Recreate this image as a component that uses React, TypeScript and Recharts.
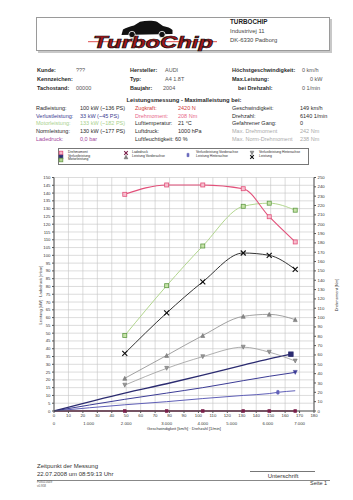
import React from "react";
import { LineChart, Line, XAxis, YAxis, CartesianGrid } from "recharts";

// Messpunkte (km/h) der Hauptkurven
const speeds = [49, 78, 103, 131, 149, 167];
const drehmoment = [232, 242, 242, 238, 208, 181];
const motorleistung = [48.5, 80.5, 106, 131.5, 133.5, 129];
const leistung = [37, 63, 83, 101.5, 100, 91];
const leistungVA = [21, 35.7, 48.5, 60.8, 62.1, 58.7];
const leistungHA = [16.6, 27.4, 34.9, 41, 37.8, 32.1];

// Verlustkurven ab Nullpunkt
const verlustSpeeds = [0, 49, 78, 103, 131, 149, 164];
const verlust = [0, 11.5, 17.5, 23, 29.5, 33.5, 36.5];
const verlustHASpeeds = [0, 49, 78, 103, 131, 149, 167];
const verlustHA = [0, 7.5, 11.5, 15, 19.5, 22.3, 24.8];
const verlustVASpeeds = [0, 49, 78, 103, 131, 149, 155, 167];
const verlustVA = [0, 4, 6, 8, 10, 11.2, 12, 13];
const ladeSpeeds = [0, 49, 78, 103, 131, 149, 167];
const ladedruck = [0, 0, 0, 0, 0, 0, 0];

const kmhTicks = [0, 10, 20, 30, 40, 50, 60, 70, 80, 90, 100, 110, 120, 130, 140, 150, 160, 170, 180];
const kwTicks = [0, 5, 10, 15, 20, 25, 30, 35, 40, 45, 50, 55, 60, 65, 70, 75, 80, 85, 90, 95, 100, 105, 110, 115, 120, 125, 130, 135, 140, 145, 150];
const nmTicks = [0, 10, 20, 30, 40, 50, 60, 70, 80, 90, 100, 110, 120, 130, 140, 150, 160, 170, 180, 190, 200, 210, 220, 230, 240, 250];
// Drehzahl-Beschriftung: Lage (km/h) und Text
const rpmAt = [0, 24, 50, 78, 103, 123, 148, 170];
const rpmLabels = ["0", "1.000", "2.000", "3.000", "4.000", "5.000", "6.000", "7.000"];

const C_NM = "#e2507a";
const C_MOTOR = "#b2d68e";
const C_LEIST = "#333333";
const C_VA = "#8a8a8a";
const C_HA = "#9a9a9a";
const C_VERL = "#2b2b70";
const C_VERL_HA = "#3c3c96";
const C_VERL_VA = "#6060b8";
const C_LADE = "#7a1f4a";

const FONT = "'Liberation Sans', Arial, sans-serif";

function rows(xs: number[], ys: number[]) {
  return xs.map((x, i) => ({ x, y: ys[i] }));
}

function Marker({ kind, cx, cy, color, fill, s }: any) {
  const h = s / 2;
  if (kind === "square")
    return <rect x={cx - h} y={cy - h} width={s} height={s} stroke={color} fill={fill} strokeWidth={0.8} />;
  if (kind === "x")
    return (
      <g stroke={color} strokeWidth={1.1}>
        <line x1={cx - h} y1={cy - h} x2={cx + h} y2={cy + h} />
        <line x1={cx - h} y1={cy + h} x2={cx + h} y2={cy - h} />
      </g>
    );
  if (kind === "up")
    return <polygon points={`${cx},${cy - h} ${cx + h},${cy + h} ${cx - h},${cy + h}`} fill={fill} stroke={color} strokeWidth={0.5} />;
  if (kind === "down")
    return <polygon points={`${cx - h},${cy - h} ${cx + h},${cy - h} ${cx},${cy + h}`} fill={fill} stroke={color} strokeWidth={0.5} />;
  // stern / vase
  return (
    <g fill={fill} stroke={color} strokeWidth={0.5}>
      <ellipse cx={cx} cy={cy - h / 2} rx={h * 0.7} ry={h / 2} />
      <ellipse cx={cx} cy={cy + h / 2} rx={h * 0.7} ry={h / 2} />
    </g>
  );
}

function dotFn(kind: string, color: string, fill: string, s: number, only?: number[]) {
  return (p: any) => {
    if (p.cx == null || (only && !only.includes(p.index))) return <g key={`d${p.index}`} />;
    return (
      <g key={`d${p.index}`}>
        <Marker kind={kind} cx={p.cx} cy={p.cy} color={color} fill={fill} s={s} />
      </g>
    );
  };
}

function Txt({ x, y, s = 5.5, c = "#2a2a2a", b = false, children, center = false }: any) {
  return (
    <div
      style={{
        position: "absolute",
        left: x,
        top: y - s * 0.58,
        fontSize: s,
        lineHeight: 1,
        color: c,
        fontWeight: b ? 700 : 400,
        whiteSpace: "nowrap",
        transform: center ? "translateX(-50%)" : undefined,
      }}
    >
      {children}
    </div>
  );
}

function LegendGlyph({ x, y, kind, color, fill }: any) {
  return (
    <svg style={{ position: "absolute", left: x - 3, top: y - 3 }} width={6} height={6}>
      <Marker kind={kind} cx={3} cy={3} color={color} fill={fill} s={3.6} />
    </svg>
  );
}

const tickStyle = { fontSize: 4.3, fill: "#333", fontFamily: FONT };

export default function App() {
  const infoRows = [109, 116.7, 124.3, 132, 139.7];
  return (
    <div
      style={{
        position: "absolute",
        left: 0,
        top: 0,
        width: 353,
        height: 500,
        background: "#fff",
        fontFamily: FONT,
        overflow: "hidden",
      }}
    >
      {/* Kopfbox mit Logo */}
      <div style={{ position: "absolute", left: 38, top: 19, width: 294, height: 34, background: "#c8c8c8" }} />
      <div style={{ position: "absolute", left: 36, top: 17, width: 292, height: 32, border: "1px solid #9a9a9a", background: "#fff" }} />
      <svg style={{ position: "absolute", left: 0, top: 0 }} width={353} height={60}>
        <path
          d="M122,33 L123,29.5 C126,27.5 130,26.5 134,25.5 L140,21.8 C146,20.4 153,20.4 157,21.8 L163,26 C167,26.8 171,28 172.5,30 L172.5,34 L121.5,35 Z"
          fill="#111"
        />
        <circle cx={132} cy={34.5} r={3.2} fill="#111" stroke="#fff" strokeWidth={0.8} />
        <circle cx={162} cy={34.5} r={3.2} fill="#111" stroke="#fff" strokeWidth={0.8} />
        <line x1={88} y1={41.7} x2={217} y2={41.7} stroke="#d42020" strokeWidth={0.8} />
        <text
          x={93}
          y={47.5}
          fontSize={16}
          fontWeight={900}
          fontStyle="italic"
          fill="#a3161a"
          stroke="#111"
          strokeWidth={0.7}
          textLength={120}
          lengthAdjust="spacingAndGlyphs"
          fontFamily={FONT}
        >
          TurboChip
        </text>
      </svg>
      <Txt x={230} y={23} s={6.3} b c="#222">TURBOCHIP</Txt>
      <Txt x={230} y={32} s={5.9} c="#444">Industrivej 11</Txt>
      <Txt x={230} y={41} s={5.9} c="#444">DK-6330 Padborg</Txt>

      {/* Fahrzeugdaten */}
      <Txt x={37} y={71} b>Kunde:</Txt>
      <Txt x={76} y={71} c="#555">???</Txt>
      <Txt x={37} y={80} b>Kennzeichen:</Txt>
      <Txt x={37} y={89} b>Tachostand:</Txt>
      <Txt x={76} y={89} c="#555">00000</Txt>
      <Txt x={130} y={71} b>Hersteller:</Txt>
      <Txt x={165} y={71} c="#555">AUDI</Txt>
      <Txt x={130} y={80} b>Typ:</Txt>
      <Txt x={165} y={80} c="#555">A4 1.8T</Txt>
      <Txt x={130} y={89} b>Baujahr:</Txt>
      <Txt x={163} y={89} c="#555">2004</Txt>
      <Txt x={232} y={71} b>Höchstgeschwindigkeit:</Txt>
      <Txt x={302} y={71} c="#555">0 km/h</Txt>
      <Txt x={232} y={80} b>Max.Leistung:</Txt>
      <Txt x={310} y={80} c="#555">0 kW</Txt>
      <Txt x={238} y={89} b>bei Drehzahl:</Txt>
      <Txt x={302} y={89} c="#555">0 1/min</Txt>

      <Txt x={184} y={101} s={5.8} b center>Leistungsmessung - Maximalleistung bei:</Txt>

      <Txt x={36} y={infoRows[0]}>Radleistung:</Txt>
      <Txt x={80} y={infoRows[0]}>100 kW (~136 PS)</Txt>
      <Txt x={36} y={infoRows[1]} c="#3b3b8f">Verlustleistung:</Txt>
      <Txt x={80} y={infoRows[1]} c="#3b3b8f">33 kW (~45 PS)</Txt>
      <Txt x={36} y={infoRows[2]} c="#a9d18e">Motorleistung:</Txt>
      <Txt x={80} y={infoRows[2]} c="#a9d18e">133 kW (~182 PS)</Txt>
      <Txt x={36} y={infoRows[3]}>Normleistung:</Txt>
      <Txt x={80} y={infoRows[3]}>130 kW (~177 PS)</Txt>
      <Txt x={36} y={infoRows[4]} c="#a0459b">Ladedruck:</Txt>
      <Txt x={80} y={infoRows[4]} c="#a0459b">0,0 bar</Txt>

      <Txt x={135} y={infoRows[0]} c="#d23a3a">Zugkraft:</Txt>
      <Txt x={178} y={infoRows[0]} c="#d23a3a">2420 N</Txt>
      <Txt x={135} y={infoRows[1]} c="#e8688a">Drehmoment:</Txt>
      <Txt x={178} y={infoRows[1]} c="#e8688a">208 Nm</Txt>
      <Txt x={135} y={infoRows[2]}>Lufttemperatur:</Txt>
      <Txt x={178} y={infoRows[2]}>21 °C</Txt>
      <Txt x={135} y={infoRows[3]}>Luftdruck:</Txt>
      <Txt x={178} y={infoRows[3]}>1000 hPa</Txt>
      <Txt x={135} y={infoRows[4]}>Luftfeuchtigkeit: 60 %</Txt>

      <Txt x={232} y={infoRows[0]}>Geschwindigkeit:</Txt>
      <Txt x={300} y={infoRows[0]}>149 km/h</Txt>
      <Txt x={232} y={infoRows[1]}>Drehzahl:</Txt>
      <Txt x={300} y={infoRows[1]}>6140 1/min</Txt>
      <Txt x={232} y={infoRows[2]}>Gefahrener Gang:</Txt>
      <Txt x={300} y={infoRows[2]}>0</Txt>
      <Txt x={232} y={infoRows[3]} c="#aaa">Max. Drehmoment</Txt>
      <Txt x={300} y={infoRows[3]} c="#aaa">242 Nm</Txt>
      <Txt x={232} y={infoRows[4]} c="#aaa">Max. Norm-Drehmoment</Txt>
      <Txt x={300} y={infoRows[4]} c="#aaa">238 Nm</Txt>

      {/* Legende */}
      <div style={{ position: "absolute", left: 58, top: 148, width: 249, height: 15, border: "0.8px solid #777" }} />
      <LegendGlyph x={61} y={153.3} kind="square" color={C_NM} fill="#f6b6c8" />
      <LegendGlyph x={61} y={156.8} kind="square" color={C_VERL} fill={C_VERL} />
      <LegendGlyph x={61} y={160.3} kind="square" color="#6a9a4a" fill={C_MOTOR} />
      <Txt x={68} y={153.3} s={3.4}>Drehmoment</Txt>
      <Txt x={68} y={156.8} s={3.4}>Verlustleistung</Txt>
      <Txt x={68} y={160.3} s={3.4}>Motorleistung</Txt>
      <LegendGlyph x={126} y={153.3} kind="x" color={C_LADE} fill={C_LADE} />
      <LegendGlyph x={126} y={156.8} kind="up" color="#555" fill={C_VA} />
      <Txt x={132} y={153.3} s={3.4}>Ladedruck</Txt>
      <Txt x={132} y={156.8} s={3.4}>Leistung Vorderachse</Txt>
      <LegendGlyph x={188} y={155} kind="vase" color={C_VERL_VA} fill={C_VERL_VA} />
      <Txt x={196} y={153.3} s={3.4}>Verlustleistung Vorderachse</Txt>
      <Txt x={196} y={156.8} s={3.4}>Leistung Hinterachse</Txt>
      <LegendGlyph x={252} y={153.3} kind="down" color="#555" fill={C_HA} />
      <LegendGlyph x={252} y={156.8} kind="x" color="#111" fill="#111" />
      <Txt x={259} y={153.3} s={3.4}>Verlustleistung Hinterachse</Txt>
      <Txt x={259} y={156.8} s={3.4}>Leistung</Txt>

      {/* Diagramm */}
      <div style={{ position: "absolute", left: 0, top: 160 }}>
        <LineChart width={353} height={290} margin={{ top: 17.5, right: 14, left: 30, bottom: 22 }}>
          <CartesianGrid xAxisId="kmh" yAxisId="kw" stroke="#c4c4c4" strokeWidth={0.6} />
          <XAxis
            xAxisId="kmh"
            dataKey="x"
            type="number"
            domain={[0, 180]}
            ticks={kmhTicks}
            interval={0}
            height={9}
            tick={tickStyle}
            tickSize={2}
            tickMargin={1}
            axisLine={{ stroke: "#555" }}
            tickLine={{ stroke: "#555" }}
          />
          <XAxis
            xAxisId="rpm"
            dataKey="x"
            type="number"
            domain={[0, 180]}
            ticks={rpmAt}
            interval={0}
            height={8}
            tick={tickStyle}
            tickFormatter={(v: number) => rpmLabels[rpmAt.indexOf(v)]}
            tickSize={0}
            tickMargin={1.5}
            axisLine={false}
            tickLine={false}
          />
          <YAxis
            yAxisId="kw"
            type="number"
            domain={[0, 150]}
            ticks={kwTicks}
            interval={0}
            width={24}
            tick={tickStyle}
            tickSize={2}
            tickMargin={1.5}
            axisLine={{ stroke: "#555" }}
            tickLine={{ stroke: "#555" }}
          />
          <YAxis
            yAxisId="nm"
            orientation="right"
            type="number"
            domain={[0, 250]}
            ticks={nmTicks}
            interval={0}
            width={25}
            tick={tickStyle}
            tickSize={2}
            tickMargin={1.5}
            axisLine={{ stroke: "#555" }}
            tickLine={{ stroke: "#555" }}
          />

          {/* unsichtbare Reihe, damit die Drehzahlachse gezeichnet wird */}
          <Line data={rows(rpmAt, rpmAt.map(() => 0))} dataKey="y" xAxisId="rpm" yAxisId="kw" stroke="none" strokeOpacity={0} dot={false} activeDot={false} isAnimationActive={false} />
          <Line data={rows(ladeSpeeds, ladedruck)} dataKey="y" xAxisId="kmh" yAxisId="kw" type="linear" stroke={C_LADE} strokeWidth={1.4} dot={dotFn("square", C_LADE, C_LADE, 2.6, [1, 2, 3, 4, 5, 6])} activeDot={false} isAnimationActive={false} />
          <Line data={rows(verlustVASpeeds, verlustVA)} dataKey="y" xAxisId="kmh" yAxisId="kw" type="monotone" stroke={C_VERL_VA} strokeWidth={1} dot={dotFn("vase", C_VERL_VA, C_VERL_VA, 4, [6])} activeDot={false} isAnimationActive={false} />
          <Line data={rows(verlustHASpeeds, verlustHA)} dataKey="y" xAxisId="kmh" yAxisId="kw" type="monotone" stroke={C_VERL_HA} strokeWidth={1} dot={dotFn("down", C_VERL_HA, C_VERL_HA, 4, [6])} activeDot={false} isAnimationActive={false} />
          <Line data={rows(verlustSpeeds, verlust)} dataKey="y" xAxisId="kmh" yAxisId="kw" type="monotone" stroke={C_VERL} strokeWidth={1.3} dot={dotFn("square", C_VERL, C_VERL, 4.5, [6])} activeDot={false} isAnimationActive={false} />
          <Line data={rows(speeds, leistungHA)} dataKey="y" xAxisId="kmh" yAxisId="kw" type="monotone" stroke={C_HA} strokeWidth={0.8} dot={dotFn("down", "#666", C_HA, 4)} activeDot={false} isAnimationActive={false} />
          <Line data={rows(speeds, leistungVA)} dataKey="y" xAxisId="kmh" yAxisId="kw" type="monotone" stroke={C_VA} strokeWidth={0.8} dot={dotFn("up", "#666", C_VA, 4)} activeDot={false} isAnimationActive={false} />
          <Line data={rows(speeds, leistung)} dataKey="y" xAxisId="kmh" yAxisId="kw" type="monotone" stroke={C_LEIST} strokeWidth={1} dot={dotFn("x", "#111", "#111", 5)} activeDot={false} isAnimationActive={false} />
          <Line data={rows(speeds, motorleistung)} dataKey="y" xAxisId="kmh" yAxisId="kw" type="monotone" stroke={C_MOTOR} strokeWidth={1} dot={dotFn("square", "#5f9a45", "#c7e3a8", 4)} activeDot={false} isAnimationActive={false} />
          <Line data={rows(speeds, drehmoment)} dataKey="y" xAxisId="kmh" yAxisId="nm" type="monotone" stroke={C_NM} strokeWidth={1.1} dot={dotFn("square", C_NM, "#f6c0cf", 4)} activeDot={false} isAnimationActive={false} />
        </LineChart>
      </div>
      <div
        style={{ position: "absolute", left: 40, top: 295, fontSize: 4, color: "#333", whiteSpace: "nowrap", transform: "translate(-50%, -50%) rotate(-90deg)" }}
      >
        Leistung [kW] · Ladedruck [mbar]
      </div>
      <div
        style={{ position: "absolute", left: 336, top: 295, fontSize: 4, color: "#333", whiteSpace: "nowrap", transform: "translate(-50%, -50%) rotate(-90deg)" }}
      >
        Drehmoment [Nm]
      </div>
      <Txt x={184} y={429} s={4} c="#333" center>Geschwindigkeit [km/h] · Drehzahl [1/min]</Txt>

      {/* Fusszeile */}
      <Txt x={37} y={466} s={6} c="#333">Zeitpunkt der Messung</Txt>
      <Txt x={37} y={474.5} s={6} c="#333">22.07.2008 um 08:59:13 Uhr</Txt>
      <div style={{ position: "absolute", left: 250, top: 471, width: 65, height: 0, borderTop: "0.8px solid #777" }} />
      <Txt x={283} y={476} s={6} c="#333" center>Unterschrift</Txt>
      <div style={{ position: "absolute", left: 37, top: 480, width: 293, height: 0, borderTop: "0.8px solid #888" }} />
      <Txt x={37} y={483} s={3} c="#555">F08015649</Txt>
      <Txt x={37} y={486.5} s={3} c="#555">v0.958</Txt>
      <Txt x={310} y={484} s={5.5} c="#333">Seite 1</Txt>
    </div>
  );
}
